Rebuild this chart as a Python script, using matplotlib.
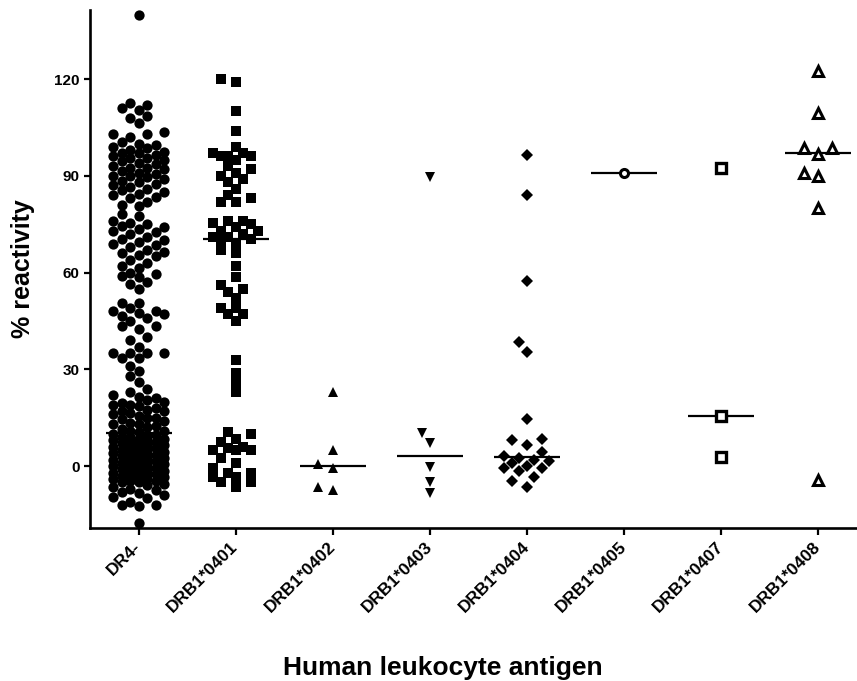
import numpy as np
import matplotlib
matplotlib.use('Agg')
import matplotlib.pyplot as plt

plt.rcParams['font.family'] = ['Liberation Sans', 'DejaVu Sans']
plt.rcParams['font.weight'] = 'bold'

categories = ['DR4-', 'DRB1*0401', 'DRB1*0402', 'DRB1*0403', 'DRB1*0404',
              'DRB1*0405', 'DRB1*0407', 'DRB1*0408']

dr4_neg = [140,
           112.5, 112, 111, 110.5, 108.5, 108, 106.5, 103.5, 103, 103, 102, 100.5, 100, 99.5,
           99, 98.5, 98, 97.5, 97, 97, 96.5, 96, 95.5, 95.5, 95, 94.5, 94, 93.5, 93, 92.5, 92.5,
           92, 91.5, 91, 90.5, 90, 90, 89.5, 89, 88.5, 88, 87.5, 87, 86.5, 86, 85.5, 85, 84.5,
           84, 83.5, 83, 82, 81, 80.5,
           78, 77.5, 76, 75.5,
           75, 74.5, 74, 73.5, 73, 72.5, 72, 71, 70.5, 70, 69.5, 69, 68.5, 68, 67, 66.5, 66,
           65.5, 65, 64,
           63, 62, 61.5, 60, 59.5, 59, 58.5, 57, 56.5, 55,
           50.5, 50.5, 49, 48, 48, 47.5, 47, 46.5, 46, 45, 43.5, 43.5, 42.5, 40, 39, 37,
           35, 35, 35, 35, 33.5, 33.5, 31, 29.5, 28, 26, 24, 23,
           22, 21.5, 21, 20.5, 20, 19.5, 19, 19, 18.5, 18, 17.5, 17, 17, 16.5, 16, 15.5, 15,
           15, 14.5, 14, 13.5, 13, 13, 12.5, 12, 11.5, 11, 11, 10.5, 10,
           9.5, 9.5, 9, 9, 8.5, 8.5, 8, 8, 7.5, 7.5, 7, 7, 6.5, 6.5, 6, 6, 5.5, 5.5, 5, 5,
           4.5, 4.5, 4, 4, 3.5, 3.5, 3, 3, 2.5, 2.5, 2, 2, 1.5, 1.5, 1, 1, 0.5, 0.5, 0, 0,
           -0.5, -0.5, -1, -1, -1.5, -1.5, -2, -2, -2.5, -2.5, -3, -3, -3.5, -3.5, -4, -4,
           -4.5, -4.5, -5, -5, -5.5, -6, -6.5, -7, -7.5, -8, -8.5, -9, -9.5, -10, -11, -12,
           -12, -12.5, -17.5]

drb0401 = [120, 119, 110, 104, 99, 97, 97, 96, 96, 96, 95, 93, 92, 91, 90, 89, 88, 86,
           84, 83, 82, 82, 76, 76, 75.5, 75, 74, 73, 73, 72, 71, 71, 70.5, 70, 69, 67, 66,
           62, 58.5, 56, 55, 54, 52, 49, 49, 47, 47, 45, 33, 29, 26, 23,
           10.5, 10, 8.5, 7.5, 6, 5.5, 5, 5, 5, 2.5, 1, -0.5, -2, -2, -3.5, -3.5, -5, -5, -6.5]
drb0402 = [23, 5, 0.5, -0.5, -7.5, -6.5]
drb0403 = [89.5, 10.2, 7.1, -0.3, -4.9, -8.4]
drb0404 = [96.5, 84, 57.5, 38.5, 35.5, 14.5, 8.5, 8, 6.5, 4.5, 3, 2.5, 2, 1.5, 1, 0,
           -0.5, -0.5, -1.5, -3.5, -4.5, -6.5]
drb0405 = [91]
drb0407 = [92.5, 15.5, 2.7]
drb0408 = [122.5, 109.5, 98.7, 98.7, 96.8, 91, 90, 80.1, -4.3]

groups = [dr4_neg, drb0401, drb0402, drb0403, drb0404, drb0405, drb0407, drb0408]
medians = [10.2, 70.3, 0.0, 3.2, 2.8, 91.0, 15.5, 97.1]

# marker style per group: (marker, size, filled, edge width, step px, min dist px, steps)
styles = [('o', 7.4, True, 0.0, 8.5, 9.5, 3),
          ('s', 6.9, True, 0.0, 7.5, 9.5, 3),
          ('^', 7.3, True, 0.0, 7.5, 10.0, 3),
          ('v', 7.3, True, 0.0, 7.5, 10.0, 3),
          ('D', 6.6, True, 0.0, 7.5, 10.0, 3),
          ('o', 5.8, False, 2.2, 7.5, 12.0, 2),
          ('s', 6.5, False, 2.4, 7.5, 12.0, 2),
          ('^', 7.2, False, 2.2, 7.0, 11.0, 2)]

fig = plt.figure(figsize=(8.57, 6.81), dpi=100)
ax = fig.add_axes([90 / 857, 1 - 528 / 681, 767 / 857, 518 / 681])
ax.set_xlim(-0.5, 7.4)
ax.set_ylim(-19.2, 141.4)

p0 = ax.transData.transform((0, 0))
p1 = ax.transData.transform((1, 1))
xpx = p1[0] - p0[0]
ypx = p1[1] - p0[1]


def swarm(vals, step, min_d, nsteps):
    vals = np.asarray(vals, dtype=float)
    offs = np.zeros(len(vals))
    cands = [0.0]
    for k in range(1, nsteps + 1):
        cands += [-k * step, k * step]
    px, py = [], []
    for i in np.argsort(vals, kind='stable'):
        y = vals[i] * ypx
        best, bestd = 0.0, -1.0
        for c in cands:
            if px:
                d = np.min(np.hypot(np.array(px) - c, np.array(py) - y))
            else:
                d = np.inf
            if d >= min_d:
                best = c
                break
            if d > bestd:
                bestd, best = d, c
        offs[i] = best / xpx
        px.append(best)
        py.append(y)
    return offs


for i, (vals, st) in enumerate(zip(groups, styles)):
    m, ms, filled, mew, step, mind, ns = st
    offs = swarm(vals, step, mind, ns)
    x = i + offs
    if filled:
        ax.plot(x, vals, linestyle='none', marker=m, markersize=ms, color='black',
                markeredgewidth=0, clip_on=False, zorder=3)
    else:
        ax.plot(x, vals, linestyle='none', marker=m, markersize=ms, markerfacecolor='white',
                markeredgecolor='black', markeredgewidth=mew, clip_on=False, zorder=3)
    ax.plot([i - 0.34, i + 0.34], [medians[i], medians[i]], color='black', lw=1.6,
            solid_capstyle='butt', zorder=2)

for s in ['top', 'right']:
    ax.spines[s].set_visible(False)
for s in ['left', 'bottom']:
    ax.spines[s].set_linewidth(1.9)

ax.set_yticks([0, 30, 60, 90, 120])
ax.set_xticks(range(len(categories)))
ax.set_xticklabels(categories, rotation=45, ha='right', va='center',
                   rotation_mode='anchor')
ax.tick_params(axis='y', length=4.5, width=1.6, labelsize=11, pad=3)
ax.tick_params(axis='x', length=5, width=1.6, labelsize=12.5, pad=6.5)

ax.set_ylabel('% reactivity', fontsize=18, fontweight='bold')
ax.yaxis.set_label_coords(-0.072, 0.5)
fig.text(443 / 857, 1 - 675 / 681, 'Human leukocyte antigen', fontsize=19,
         fontweight='bold', ha='center', va='baseline')

fig.savefig('out.png', dpi=100)
